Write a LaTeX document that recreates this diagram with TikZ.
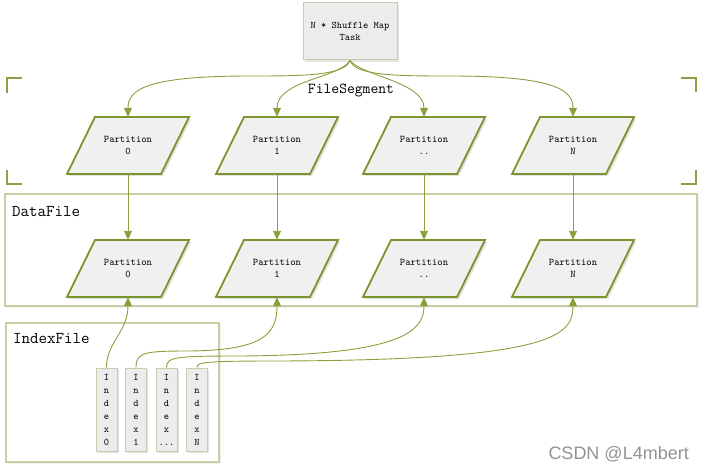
\documentclass[tikz,border=0pt]{standalone}
\usepackage{fontspec}
\setsansfont{Liberation Sans}
\usetikzlibrary{arrows.meta,shadows,patterns}
\definecolor{olv}{RGB}{122,148,46}
\definecolor{lne}{RGB}{138,160,58}
\definecolor{frm}{RGB}{198,208,165}
\definecolor{brk}{RGB}{140,160,70}
\definecolor{pfill}{RGB}{240,240,240}
\definecolor{tfill}{RGB}{236,236,236}
\definecolor{tdraw}{RGB}{198,204,176}
\tikzset{
  conn/.style={draw=lne, line width=0.9pt},
  arr/.style={conn, -{Triangle[width=8pt,length=9pt]}},
  ptext/.style={font=\ttfamily\fontsize{10.2}{12}\selectfont, align=center,
    minimum width=95pt, minimum height=57pt, inner sep=0pt},
  para/.style={draw=olv, line width=1.8pt, fill=pfill, line join=miter},
  pshadow/.style={fill=black, opacity=0.12},
  framebox/.style={draw=frm, fill=white, line width=1.5pt, inner sep=0pt,
    drop shadow={opacity=0.12, shadow xshift=1.5pt, shadow yshift=-1.5pt}},
  bigtext/.style={font=\ttfamily\fontsize{16.5}{18}\selectfont, anchor=west, inner sep=0pt},
  taskbox/.style={draw=tdraw, line width=1pt, fill=tfill, minimum width=94pt, minimum height=57pt,
    inner sep=0pt, align=center, font=\ttfamily\fontsize{10}{11.5}\selectfont,
    drop shadow={opacity=0.2, shadow xshift=2pt, shadow yshift=-2pt}},
  idxbox/.style={draw=tdraw, line width=1pt, fill=tfill, minimum width=21pt, minimum height=83pt,
    inner sep=0pt, align=center, font=\ttfamily\fontsize{10}{13}\selectfont,
    drop shadow={opacity=0.2, shadow xshift=1.5pt, shadow yshift=-1.5pt}},
  bracket/.style={draw=brk, line width=2.6pt},
}
\newcommand\mypara[4]{%
  \fill[pshadow] (#2-33+2,#3-28.5+2) -- (#2+61+2,#3-28.5+2) -- (#2+33+2,#3+28.5+2) -- (#2-61+2,#3+28.5+2) -- cycle;
  \filldraw[para] (#2-33,#3-28.5) -- (#2+61,#3-28.5) -- (#2+33,#3+28.5) -- (#2-61,#3+28.5) -- cycle;
  \node[ptext] (#1) at (#2,#3) {#4};
}
\begin{document}
\begin{tikzpicture}[x=1pt,y=-1pt]
\useasboundingbox (0,0) rectangle (703,470);
% frames
\node[framebox, minimum width=692pt, minimum height=112pt] (df) at (351,250) {};
\node[framebox, minimum width=213pt, minimum height=139pt] (ixf) at (112.5,392.5) {};
\node[bigtext] (dflab) at (12,212) {DataFile};
\node[bigtext] (ixlab) at (13,339) {IndexFile};
% brackets
\draw[bracket] (22,78) -- (7,78) -- (7,93);
\draw[bracket] (7,170) -- (7,184) -- (22,184);
\draw[bracket] (681,78) -- (696,78) -- (696,92);
\draw[bracket] (696,170) -- (696,184) -- (681,184);
\node[font=\ttfamily\fontsize{15.2}{17}\selectfont, inner sep=0pt] (fs) at (351,91) {FileSegment};
% task
\node[taskbox] (task) at (350,31.5) {N * Shuffle Map\\Task};
% partitions
\mypara{p0}{128}{145.5}{Partition\\0}
\mypara{p1}{277}{145.5}{Partition\\1}
\mypara{p2}{424}{145.5}{Partition\\..}
\mypara{p3}{573}{145.5}{Partition\\N}
\mypara{q0}{128}{268.5}{Partition\\0}
\mypara{q1}{277}{268.5}{Partition\\1}
\mypara{q2}{424}{268.5}{Partition\\..}
\mypara{q3}{573}{268.5}{Partition\\N}
% index boxes
\node[idxbox] (i0) at (106.5,409.5) {I\\n\\d\\e\\x\\0};
\node[idxbox] (i1) at (136,409.5) {I\\n\\d\\e\\x\\1};
\node[idxbox] (i2) at (166.5,409.5) {I\\n\\d\\e\\x\\...};
\node[idxbox] (i3) at (197,409.5) {I\\n\\d\\e\\x\\N};
% task connectors
\draw[arr] (task.south) .. controls (345,76) and (300,76) .. (250,76) .. controls (145,76) and (128,90) .. (p0.north);
\draw[arr] (task.south) .. controls (340,78) and (277,80) .. (p1.north);
\draw[arr] (task.south) .. controls (362,76) and (424,82) .. (p2.north);
\draw[arr] (task.south) .. controls (355,76) and (400,76) .. (450,76) .. controls (555,76) and (573,90) .. (p3.north);
% vertical
\draw[arr] (p0.south) -- (q0.north);
\draw[arr] (p1.south) -- (q1.north);
\draw[arr] (p2.south) -- (q2.north);
\draw[arr] (p3.south) -- (q3.north);
% index connectors
\draw[arr] (i0.north) .. controls (106.5,342) and (128,332) .. (q0.south);
\draw[arr] (i1.north) .. controls (136,352) and (145,351) .. (190,351) .. controls (262,350) and (277,335) .. (q1.south);
\draw[arr] (i2.north) .. controls (166.5,357) and (175,356) .. (240,356) .. controls (405,355) and (424,330) .. (q2.south);
\draw[arr] (i3.north) .. controls (197,362) and (205,361) .. (280,361) .. controls (555,360) and (573,335) .. (q3.south);
% watermark
\node[font=\sffamily\fontsize{18}{20}\selectfont, text=gray!85, anchor=east, inner sep=0pt] (wm) at (689,454) {CSDN @L4mbert};
\end{tikzpicture}
\end{document}
